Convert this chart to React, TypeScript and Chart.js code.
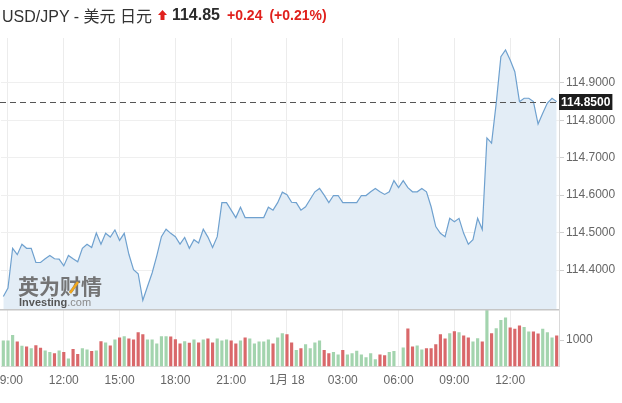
import React, { useEffect, useRef } from 'react';
import { Chart, registerables } from 'chart.js';

Chart.register(...registerables);
Chart.defaults.font.family = "Arial, 'Liberation Sans', 'Noto Sans CJK SC', sans-serif";

const PAIR_LABEL = 'USD/JPY - 美元 日元';
const LAST_PRICE = 114.85;
const CHANGE_ABS = '+0.24';
const CHANGE_PCT = '(+0.21%)';

// 15-minute slots, first slot 08:45 (Jan 17) to 14:30 (Jan 18)
const PRICES = [
  114.329, 114.352, 114.458, 114.441, 114.469, 114.458, 114.458, 114.420, 114.420, 114.430,
  114.439, 114.430, 114.429, 114.411, 114.439, 114.430, 114.422, 114.458, 114.469, 114.460,
  114.499, 114.469, 114.498, 114.488, 114.507, 114.479, 114.498, 114.442, 114.401, 114.390,
  114.319, 114.356, 114.392, 114.438, 114.489, 114.509, 114.498, 114.489, 114.469, 114.487,
  114.458, 114.481, 114.472, 114.509, 114.488, 114.460, 114.489, 114.580, 114.580, 114.560,
  114.540, 114.568, 114.540, 114.540, 114.540, 114.540, 114.540, 114.568, 114.560, 114.580,
  114.608, 114.601, 114.581, 114.580, 114.560, 114.569, 114.589, 114.609, 114.618, 114.600,
  114.580, 114.599, 114.599, 114.580, 114.580, 114.580, 114.580, 114.599, 114.599, 114.609,
  114.618, 114.609, 114.602, 114.609, 114.639, 114.620, 114.639, 114.620, 114.609, 114.609,
  114.618, 114.609, 114.569, 114.516, 114.498, 114.489, 114.538, 114.529, 114.538, 114.498,
  114.469, 114.481, 114.538, 114.508, 114.753, 114.739, 114.846, 114.970, 114.988, 114.961,
  114.930, 114.850, 114.859, 114.859, 114.850, 114.790, 114.819, 114.846, 114.859, 114.850,
];

const VOLUMES = [
  990, 990, 1190, 950, 790, 760, 690, 810, 710, 610,
  550, 500, 610, 550, 310, 660, 475, 690, 650, 590,
  610, 960, 910, 800, 1020, 1100, 1150, 1060, 1020, 1300,
  1225, 1020, 1020, 875, 1150, 1150, 1140, 1035, 875, 960,
  900, 1025, 910, 1025, 1060, 910, 1060, 990, 1025, 990,
  875, 990, 1100, 1060, 875, 950, 950, 1025, 875, 1100,
  1260, 1225, 910, 625, 690, 840, 690, 910, 990, 625,
  500, 550, 460, 625, 460, 500, 600, 460, 350, 500,
  275, 460, 425, 550, 590, 0, 725, 1435, 760, 800,
  650, 690, 690, 840, 1225, 1060, 1260, 1335, 1300, 1175,
  1100, 950, 1075, 950, 2135, 1260, 1450, 1760, 1850, 1475,
  1425, 1550, 1500, 1325, 1325, 1250, 1425, 1300, 1100, 1175,
];

// U = up bar (green), D = down bar (red)
const VOLUME_DIRECTION = (
  'UUUDUDUDDU' + 'UDUDUDDUUD' + 'UDUDUDUDDD' + 'DUUUUUDDDU' +
  'DUDUDDUUUD' + 'DUDUUUUUDU' + 'UDDUDUUUUD' + 'DUUDUUUUUU' +
  'UDDUUUUDDU' + 'UDDDDDUDUD' + 'DUUDUDUUUD' + 'DDUUDDUUUD'
).split('');

const X_TICK_INDEX = [1, 13, 25, 37, 49, 61, 73, 85, 97, 109];
const X_TICK_LABELS = ['09:00', '12:00', '15:00', '18:00', '21:00', '1月 18', '03:00', '06:00', '09:00', '12:00'];
const PRICE_TICKS = [114.4, 114.5, 114.6, 114.7, 114.8, 114.9];
const VOLUME_TICKS = [1000];

const CATEGORIES = PRICES.map((_, i) => String(i));
const TICK_MAP = new Map<number, string>(X_TICK_INDEX.map((idx, k) => [idx, X_TICK_LABELS[k]]));

const GREEN = '#a3d4ae';
const RED = '#d9686a';

const overlayPlugin = {
  id: 'overlay',
  afterDatasetsDraw(chart: any) {
    const { ctx, chartArea, scales } = chart;
    const y = scales.y;
    ctx.save();
    // pane separator
    ctx.strokeStyle = '#c6c6c6';
    ctx.lineWidth = 1.5;
    ctx.beginPath();
    ctx.moveTo(0, y.bottom);
    ctx.lineTo(chartArea.right, y.bottom);
    ctx.stroke();

    // watermark
    ctx.textBaseline = 'alphabetic';
    ctx.textAlign = 'left';
    ctx.fillStyle = 'rgba(110,110,110,0.95)';
    ctx.font = "bold 21px 'Noto Sans CJK SC', sans-serif";
    ctx.fillText('英为财情', 18, 294);
    ctx.strokeStyle = '#f2a81d';
    ctx.lineWidth = 2.5;
    ctx.beginPath();
    ctx.moveTo(70, 293);
    ctx.lineTo(78, 282);
    ctx.stroke();
    ctx.font = "bold 11px Arial, 'Liberation Sans', sans-serif";
    ctx.fillStyle = '#555';
    ctx.fillText('Investing', 19, 306);
    const w = ctx.measureText('Investing').width;
    ctx.font = "11px Arial, 'Liberation Sans', sans-serif";
    ctx.fillStyle = '#8a8a8a';
    ctx.fillText('.com', 19 + w, 306);

    // last price dashed line
    const py = Math.round(y.getPixelForValue(LAST_PRICE)) + 0.5;
    ctx.setLineDash([6, 4]);
    ctx.strokeStyle = '#555';
    ctx.lineWidth = 1;
    ctx.beginPath();
    ctx.moveTo(0, py);
    ctx.lineTo(chartArea.right, py);
    ctx.stroke();
    ctx.setLineDash([]);
    ctx.restore();
  },
  afterDraw(chart: any) {
    const { ctx, chartArea, scales } = chart;
    const y = scales.y;
    const py = Math.round(y.getPixelForValue(LAST_PRICE));
    const text = LAST_PRICE.toFixed(4);
    ctx.save();
    ctx.font = "bold 12px Arial, 'Liberation Sans', sans-serif";
    const tw = ctx.measureText(text).width;
    ctx.fillStyle = '#1c1c1c';
    ctx.fillRect(chartArea.right, py - 8, tw + 4, 16);
    ctx.fillStyle = '#fff';
    ctx.textBaseline = 'middle';
    ctx.textAlign = 'left';
    ctx.fillText(text, chartArea.right + 2, py + 0.5);
    ctx.restore();
  },
};

export default function App() {
  const ref = useRef<HTMLCanvasElement>(null);

  useEffect(() => {
    const canvas = ref.current;
    if (!canvas) return;
    const chart = new Chart(canvas, {
      type: 'bar',
      data: {
        labels: CATEGORIES,
        datasets: [
          {
            type: 'line',
            data: PRICES,
            yAxisID: 'y',
            borderColor: '#6fa1cf',
            borderWidth: 1.2,
            backgroundColor: '#e3edf6',
            fill: 'start',
            pointRadius: 0,
            tension: 0,
          } as any,
          {
            type: 'bar',
            data: VOLUMES,
            yAxisID: 'yv',
            backgroundColor: VOLUME_DIRECTION.map((d) => (d === 'U' ? GREEN : RED)),
            borderWidth: 0,
            barPercentage: 0.68,
            categoryPercentage: 1,
          } as any,
        ],
      },
      options: {
        animation: false,
        responsive: false,
        events: [],
        layout: { padding: { top: 38, left: 1, right: 0, bottom: 8 } },
        plugins: { legend: { display: false }, tooltip: { enabled: false } },
        scales: {
          x: {
            type: 'category',
            offset: true,
            afterFit: (s: any) => {
              s.paddingLeft = 0;
              s.paddingRight = 0;
            },
            grid: {
              offset: false,
              drawTicks: false,
              color: (c: any) => (TICK_MAP.has(c.index) ? '#ececec' : 'rgba(0,0,0,0)'),
            },
            border: { display: true, color: '#dcdcdc' },
            ticks: {
              autoSkip: false,
              maxRotation: 0,
              minRotation: 0,
              padding: 7,
              color: '#666',
              font: { size: 12 },
              callback: (_v: any, i: number) => TICK_MAP.get(i) ?? '',
            },
          },
          y: {
            type: 'linear',
            position: 'right',
            stack: 'pane',
            stackWeight: 272,
            min: 114.294,
            max: 115.02,
            afterBuildTicks: (s: any) => {
              s.ticks = PRICE_TICKS.map((v) => ({ value: v }));
            },
            afterFit: (s: any) => {
              s.width = 63;
            },
            grid: { color: '#efefef', tickLength: 5, tickColor: '#d0d0d0' },
            border: { color: '#d9d9d9' },
            ticks: {
              padding: 2,
              color: '#666',
              font: { size: 12 },
              callback: (v: any) => Number(v).toFixed(4),
            },
          },
          yv: {
            type: 'linear',
            position: 'right',
            stack: 'pane',
            stackWeight: 57,
            min: 0,
            max: 2150,
            afterBuildTicks: (s: any) => {
              s.ticks = VOLUME_TICKS.map((v) => ({ value: v }));
            },
            afterFit: (s: any) => {
              s.width = 63;
            },
            grid: { drawOnChartArea: false, tickLength: 5, tickColor: '#d0d0d0' },
            border: { color: '#d9d9d9' },
            ticks: {
              padding: 2,
              color: '#666',
              font: { size: 12 },
              callback: (v: any) => String(v),
            },
          },
        },
      } as any,
      plugins: [overlayPlugin],
    });
    return () => chart.destroy();
  }, []);

  const red = '#e0201c';
  return (
    <div style={{ position: 'fixed', left: 0, top: 0, width: 622, height: 403, background: '#fff', overflow: 'hidden' }}>
      <canvas ref={ref} width={622} height={403} style={{ position: 'absolute', left: 0, top: 0 }} />
      <div
        style={{
          position: 'absolute',
          left: 2,
          top: 5,
          height: 20,
          display: 'flex',
          alignItems: 'center',
          whiteSpace: 'nowrap',
          fontFamily: "Arial, 'Liberation Sans', 'Noto Sans CJK SC', sans-serif",
        }}
      >
        <span style={{ fontSize: 16, color: '#333' }}>{PAIR_LABEL}</span>
        <svg width="9" height="10" viewBox="0 0 9 10" style={{ marginLeft: 6, marginRight: 5 }}>
          <polygon points="4.5,0 9,5 6.5,5 6.5,10 2.5,10 2.5,5 0,5" fill={red} />
        </svg>
        <span style={{ fontSize: 16, fontWeight: 'bold', color: '#2a2a2a' }}>{LAST_PRICE.toFixed(2)}</span>
        <span style={{ fontSize: 14, fontWeight: 'bold', color: red, marginLeft: 7 }}>{CHANGE_ABS}</span>
        <span style={{ fontSize: 14, fontWeight: 'bold', color: red, marginLeft: 7 }}>{CHANGE_PCT}</span>
      </div>
    </div>
  );
}
